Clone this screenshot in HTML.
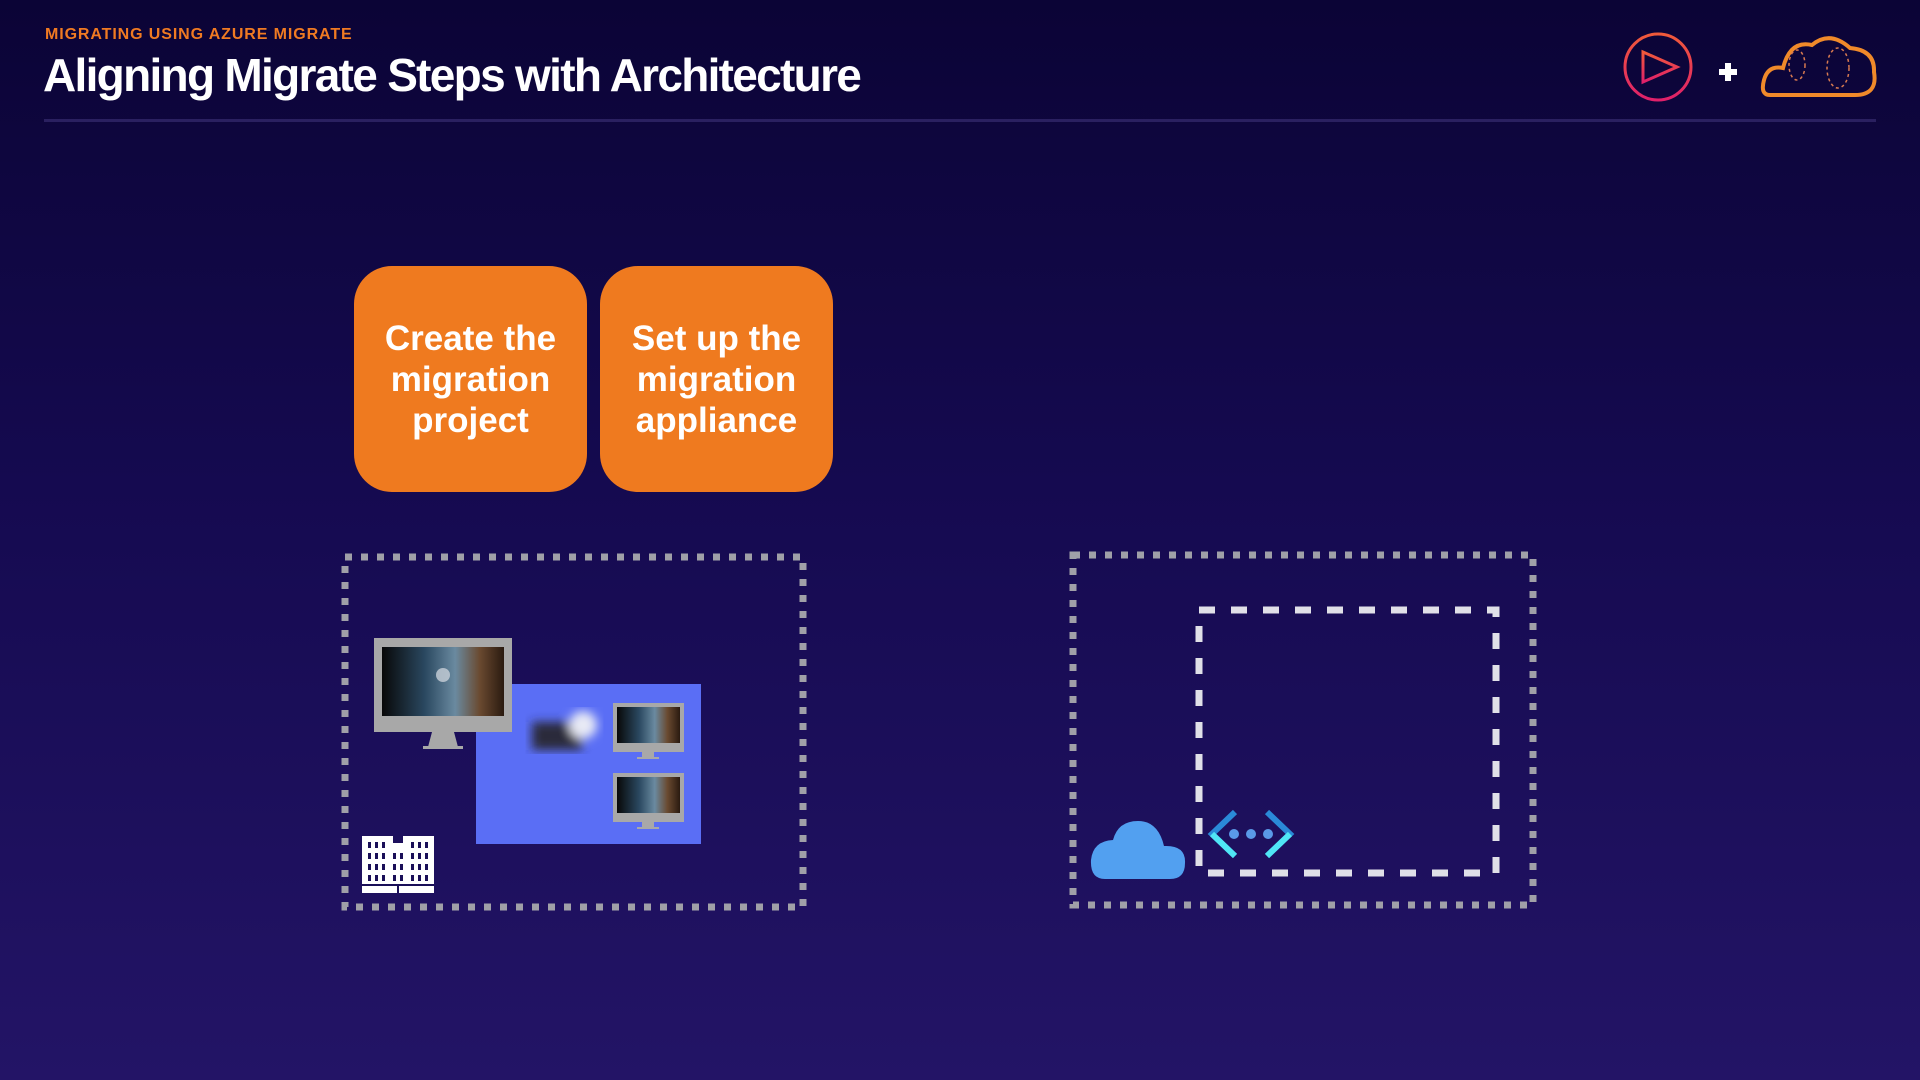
<!DOCTYPE html>
<html><head><meta charset="utf-8"><style>
html,body{margin:0;padding:0}
body{width:1920px;height:1080px;overflow:hidden;background:linear-gradient(180deg,#0b0436 0%,#150a50 45%,#231466 100%);font-family:"Liberation Sans",sans-serif;position:relative}
.sub{position:absolute;left:45px;top:26px;color:#f07a22;font-weight:bold;font-size:16px;letter-spacing:0.9px}
.title{position:absolute;left:43px;top:48px;color:#fff;font-weight:bold;font-size:46px;letter-spacing:-1.7px;white-space:nowrap}
.line{position:absolute;left:44px;top:119px;width:1832px;height:3px;background:#2a2060}
.box{position:absolute;top:266px;width:233px;height:226px;border-radius:38px;background:#ef7a1f;color:#fff;font-weight:bold;font-size:35px;line-height:41px;text-align:center;display:flex;align-items:center;justify-content:center}
</style></head><body>
<div class="sub">MIGRATING USING AZURE MIGRATE</div>
<div class="title">Aligning Migrate Steps with Architecture</div>
<div class="line"></div>
<div class="box" style="left:354px">Create the<br>migration<br>project</div>
<div class="box" style="left:600px">Set up the<br>migration<br>appliance</div>
<svg width="1920" height="1080" style="position:absolute;left:0;top:0">
<defs>
<linearGradient id="og" x1="0" y1="0" x2="0" y2="1"><stop offset="0" stop-color="#f05a3a"/><stop offset="1" stop-color="#e0206a"/></linearGradient>
<linearGradient id="scr" x1="0" y1="0" x2="1" y2="0"><stop offset="0" stop-color="#080808"/><stop offset="0.35" stop-color="#2a4860"/><stop offset="0.6" stop-color="#6a8aa0"/><stop offset="0.8" stop-color="#6a4a30"/><stop offset="1" stop-color="#2a1a10"/></linearGradient>
<filter id="bl"><feGaussianBlur stdDeviation="5"/></filter>
</defs>
<circle cx="1658" cy="67" r="33" fill="none" stroke="url(#og)" stroke-width="3"/>
<path d="M1643 52 L1677 67 L1643 82 Z" fill="none" stroke="url(#og)" stroke-width="3"/>
<path d="M1650 55 L1650 79" stroke="url(#og)" stroke-width="3"/>
<path d="M1719 72 h18 M1728 63 v18" stroke="#fff" stroke-width="6"/>
<path d="M1770 95 Q1760 95 1764 80 Q1768 65 1783 68 Q1790 40 1812 45 Q1830 30 1850 48 Q1875 50 1874 72 Q1878 95 1855 95 Z" fill="none" stroke="#f08a2a" stroke-width="4"/>
<ellipse cx="1797" cy="65" rx="8" ry="15" fill="none" stroke="#d87a50" stroke-width="1.5" stroke-dasharray="3 3"/>
<ellipse cx="1838" cy="68" rx="11" ry="20" fill="none" stroke="#d87a50" stroke-width="1.5" stroke-dasharray="3 3"/>
<rect x="345" y="557" width="458" height="350" fill="none" stroke="#a0a0a8" stroke-width="7" stroke-dasharray="7 9"/>
<rect x="476" y="684" width="225" height="160" fill="#5a6ef5"/>
<g filter="url(#bl)"><rect x="532" y="722" width="50" height="28" fill="#2a2a3a"/><circle cx="583" cy="725" r="14" fill="#e8eaf5"/></g>
<rect x="374" y="638" width="138" height="94" fill="#a8a8a8"/>
<rect x="382" y="647" width="122" height="69" fill="url(#scr)"/>
<circle cx="443" cy="675" r="7" fill="#c8d0d8" opacity="0.8"/>
<path d="M432 732 L454 732 L458 747 L428 747 Z" fill="#a8a8a8"/><rect x="423" y="746" width="40" height="3" fill="#a8a8a8"/>
<g><rect x="613" y="703" width="71" height="49" fill="#a8a8a8"/><rect x="617" y="707" width="63" height="36" fill="url(#scr)"/><rect x="642" y="752" width="12" height="5" fill="#a8a8a8"/><rect x="637" y="757" width="22" height="2" fill="#a8a8a8"/></g>
<g><rect x="613" y="773" width="71" height="49" fill="#a8a8a8"/><rect x="617" y="777" width="63" height="36" fill="url(#scr)"/><rect x="642" y="822" width="12" height="5" fill="#a8a8a8"/><rect x="637" y="827" width="22" height="2" fill="#a8a8a8"/></g>
<g fill="#fff"><rect x="362" y="836" width="31" height="57"/><rect x="403" y="836" width="31" height="57"/><rect x="390" y="843" width="16" height="50"/></g>
<g fill="#1a0f58">
<rect x="368" y="842" width="3" height="6"/><rect x="375" y="842" width="3" height="6"/><rect x="382" y="842" width="3" height="6"/><rect x="411" y="842" width="3" height="6"/><rect x="418" y="842" width="3" height="6"/><rect x="425" y="842" width="3" height="6"/>
<rect x="368" y="853" width="3" height="6"/><rect x="375" y="853" width="3" height="6"/><rect x="382" y="853" width="3" height="6"/><rect x="393" y="853" width="3" height="6"/><rect x="400" y="853" width="3" height="6"/><rect x="411" y="853" width="3" height="6"/><rect x="418" y="853" width="3" height="6"/><rect x="425" y="853" width="3" height="6"/>
<rect x="368" y="864" width="3" height="6"/><rect x="375" y="864" width="3" height="6"/><rect x="382" y="864" width="3" height="6"/><rect x="393" y="864" width="3" height="6"/><rect x="400" y="864" width="3" height="6"/><rect x="411" y="864" width="3" height="6"/><rect x="418" y="864" width="3" height="6"/><rect x="425" y="864" width="3" height="6"/>
<rect x="368" y="875" width="3" height="6"/><rect x="375" y="875" width="3" height="6"/><rect x="382" y="875" width="3" height="6"/><rect x="393" y="875" width="3" height="6"/><rect x="400" y="875" width="3" height="6"/><rect x="411" y="875" width="3" height="6"/><rect x="418" y="875" width="3" height="6"/><rect x="425" y="875" width="3" height="6"/>
<rect x="362" y="884" width="72" height="2"/><rect x="397" y="886" width="2" height="7"/>
</g>
<rect x="1073" y="555" width="460" height="350" fill="none" stroke="#a0a0a8" stroke-width="7" stroke-dasharray="7 9"/>
<rect x="1199" y="610" width="297" height="263" fill="none" stroke="#e0e0e8" stroke-width="7" stroke-dasharray="16 16"/>
<path d="M1105 879 Q1090 879 1091 860 Q1093 841 1113 840 Q1118 821 1138 821 Q1158 821 1164 846 Q1186 845 1185 863 Q1185 879 1170 879 Z" fill="#52a0f0"/>
<path d="M1235 812 L1212 834 L1235 856" fill="none" stroke="#2a8ad8" stroke-width="6"/>
<path d="M1212 834 L1235 856" stroke="#50e6f5" stroke-width="6"/>
<path d="M1267 812 L1290 834 L1267 856" fill="none" stroke="#2a8ad8" stroke-width="6"/>
<path d="M1290 834 L1267 856" stroke="#50e6f5" stroke-width="6"/>
<circle cx="1234" cy="834" r="5" fill="#5a9ae8"/><circle cx="1251" cy="834" r="5" fill="#5a9ae8"/><circle cx="1268" cy="834" r="5" fill="#5a9ae8"/>
</svg>
</body></html>
